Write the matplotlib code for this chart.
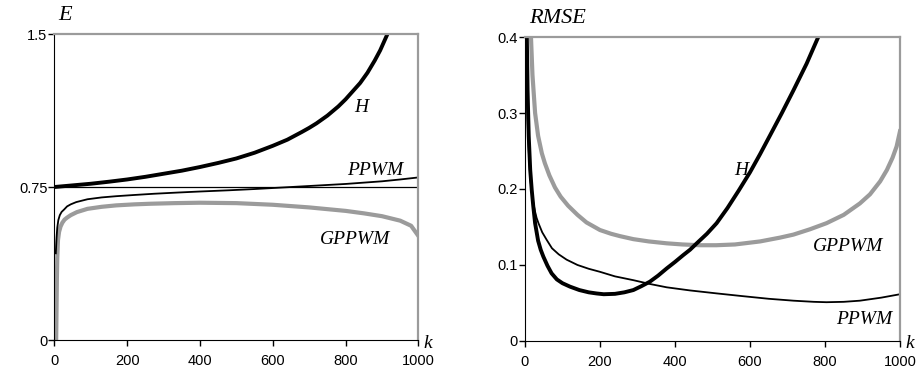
import matplotlib
matplotlib.use("Agg")
import matplotlib.pyplot as plt

# ---- left panel: E ----
e_h_k = [0, 50, 100, 150, 200, 250, 300, 350, 400, 450, 500, 550, 600, 640,
         680, 700, 720, 750, 780, 800, 820, 840, 860, 880, 895, 905, 915]
e_h = [0.75, 0.758, 0.766, 0.776, 0.787, 0.800, 0.815, 0.830, 0.848, 0.868,
       0.890, 0.918, 0.952, 0.982, 1.02, 1.04, 1.062, 1.10, 1.145, 1.18, 1.22,
       1.26, 1.31, 1.37, 1.42, 1.46, 1.50]

e_ppwm_k = [4, 6, 8, 11, 15, 20, 27, 35, 45, 60, 91, 130, 170, 220, 274, 340,
            400, 480, 549, 620, 700, 800, 900, 950, 1000]
e_ppwm = [0.425, 0.50, 0.55, 0.588, 0.612, 0.628, 0.640, 0.655, 0.665, 0.676,
          0.690, 0.699, 0.705, 0.711, 0.717, 0.723, 0.728, 0.734, 0.740, 0.747,
          0.755, 0.765, 0.778, 0.787, 0.797]

e_gppwm_k = [5, 6, 7, 8, 10, 13, 17, 22, 28, 35, 45, 62, 91, 130, 170, 220, 264,
             330, 400, 500, 600, 700, 800, 850, 900, 950, 980, 1000]
e_gppwm = [0.0, 0.15, 0.30, 0.40, 0.49, 0.53, 0.556, 0.575, 0.59, 0.600, 0.612,
           0.627, 0.643, 0.653, 0.660, 0.665, 0.668, 0.671, 0.673, 0.671, 0.663,
           0.650, 0.633, 0.621, 0.607, 0.585, 0.56, 0.51]

e_ref = 0.75

# ---- right panel: RMSE ----
r_h_k = [5, 7, 10, 14, 18, 22, 27, 35, 42, 49, 60, 71, 85, 100, 120, 145, 170,
         191, 210, 240, 265, 289, 310, 333, 355, 378, 400, 422, 440, 458, 485,
         511, 540, 570, 600, 627, 655, 685, 716, 751, 782]
r_h = [0.40, 0.33, 0.27, 0.225, 0.199, 0.178, 0.155, 0.132, 0.120, 0.111,
       0.099, 0.089, 0.081, 0.076, 0.0715, 0.067, 0.064, 0.0625, 0.0615, 0.062,
       0.064, 0.067, 0.072, 0.078, 0.086, 0.0955, 0.104, 0.113, 0.120, 0.1285,
       0.141, 0.155, 0.175, 0.198, 0.222, 0.246, 0.272, 0.300, 0.330, 0.365, 0.40]

r_ppwm_k = [3, 4, 6, 8, 11, 15, 20, 26, 31, 36, 46, 58, 72, 90, 111, 140, 170,
            200, 240, 289, 333, 378, 440, 511, 580, 650, 716, 770, 804, 850, 893,
            950, 1000]
r_ppwm = [0.40, 0.36, 0.31, 0.275, 0.24, 0.21, 0.188, 0.172, 0.162, 0.155,
          0.143, 0.133, 0.122, 0.114, 0.107, 0.100, 0.095, 0.091, 0.085, 0.080,
          0.075, 0.0706, 0.0665, 0.0626, 0.059, 0.0555, 0.053, 0.0515, 0.051,
          0.0515, 0.053, 0.057, 0.0615]

r_gppwm_k = [16, 20, 27, 35, 45, 53, 65, 80, 95, 115, 140, 164, 200, 230, 253,
             289, 330, 378, 420, 467, 510, 560, 627, 680, 716, 760, 804, 850,
             893, 920, 947, 965, 980, 991, 1000]
r_gppwm = [0.40, 0.35, 0.30, 0.27, 0.247, 0.234, 0.218, 0.202, 0.190, 0.178,
           0.166, 0.156, 0.146, 0.141, 0.138, 0.134, 0.131, 0.1285, 0.127, 0.126,
           0.126, 0.127, 0.131, 0.136, 0.140, 0.147, 0.155, 0.166, 0.181, 0.193,
           0.210, 0.225, 0.241, 0.256, 0.276]

x_ticks = [0, 200, 400, 600, 800, 1000]
e_ticks = [0, 0.75, 1.5]
e_ticklabels = ["0", "0.75", "1.5"]
r_ticks = [0, 0.1, 0.2, 0.3, 0.4]
r_ticklabels = ["0", "0.1", "0.2", "0.3", "0.4"]

GRAY = "#9b9b9b"
SERIF = "Liberation Serif"
SANS = "Liberation Sans"


def style_axes(ax, ylim, yticks, yticklabels):
    ax.set_xlim(0, 1000)
    ax.set_ylim(*ylim)
    ax.set_xticks(x_ticks)
    ax.set_yticks(yticks)
    ax.set_yticklabels(yticklabels)
    for lab in ax.get_xticklabels() + ax.get_yticklabels():
        lab.set_fontfamily(SANS)
        lab.set_fontsize(10.5)
    ax.tick_params(axis="x", direction="out", length=4, width=1, pad=6)
    ax.tick_params(axis="y", direction="out", length=4, width=1, pad=1)
    ax.spines["left"].set_color("black")
    ax.spines["bottom"].set_color("black")
    ax.spines["top"].set_color(GRAY)
    ax.spines["right"].set_color(GRAY)
    ax.spines["top"].set_linewidth(1.6)
    ax.spines["right"].set_linewidth(1.6)


def label(ax, x, y, s, size=14, **kw):
    ax.text(x, y, s, fontfamily=SERIF, fontstyle="italic", fontsize=size, **kw)


fig = plt.figure(figsize=(9.21, 3.78), dpi=100)
ax1 = fig.add_axes([0.0590, 0.1005, 0.3953, 0.8095])
ax2 = fig.add_axes([0.5700, 0.0980, 0.4072, 0.8040])

# left
ax1.axhline(e_ref, color="black", lw=0.9)
ax1.plot(e_gppwm_k, e_gppwm, color=GRAY, lw=3.0, solid_joinstyle="round")
ax1.plot(e_ppwm_k, e_ppwm, color="black", lw=1.3, solid_joinstyle="round")
ax1.plot(e_h_k, e_h, color="black", lw=2.8, solid_joinstyle="round")
style_axes(ax1, (0, 1.5), e_ticks, e_ticklabels)
label(ax1, 843, 1.14, "H", ha="center", va="center")
label(ax1, 882, 0.83, "PPWM", ha="center", va="center")
label(ax1, 827, 0.495, "GPPWM", ha="center", va="center")
label(ax1, 0.01, 1.03, "E", size=16, transform=ax1.transAxes, va="bottom")
label(ax1, 1.015, -0.01, "k", size=14, transform=ax1.transAxes, va="center")

# right
ax2.plot(r_gppwm_k, r_gppwm, color=GRAY, lw=3.0, solid_joinstyle="round")
ax2.plot(r_ppwm_k, r_ppwm, color="black", lw=1.3, solid_joinstyle="round")
ax2.plot(r_h_k, r_h, color="black", lw=2.8, solid_joinstyle="round")
style_axes(ax2, (0, 0.4), r_ticks, r_ticklabels)
label(ax2, 578, 0.225, "H", ha="center", va="center")
label(ax2, 862, 0.124, "GPPWM", ha="center", va="center")
label(ax2, 904, 0.028, "PPWM", ha="center", va="center")
label(ax2, 0.01, 1.03, "RMSE", size=16, transform=ax2.transAxes, va="bottom")
label(ax2, 1.015, -0.01, "k", size=14, transform=ax2.transAxes, va="center")

fig.savefig("out.png", dpi=100)
